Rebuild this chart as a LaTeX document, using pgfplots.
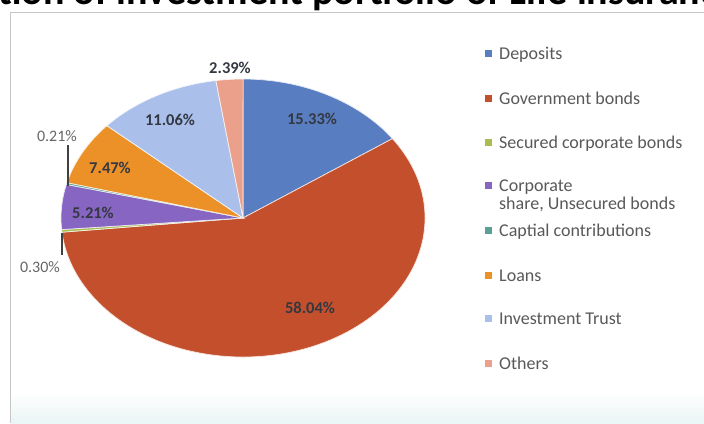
\documentclass[border=0pt]{standalone}
\usepackage{pgfplots}
\usepackage{pgfplotstable}
\pgfplotsset{compat=1.18}
\usepackage{fontspec}
\setmainfont{Carlito}

% slice colours, in table order
\definecolor{c0}{RGB}{88,125,192}
\definecolor{c1}{RGB}{196,79,45}
\definecolor{c2}{RGB}{170,190,80}
\definecolor{c3}{RGB}{134,102,194}
\definecolor{c4}{RGB}{90,160,150}
\definecolor{c5}{RGB}{236,145,40}
\definecolor{c6}{RGB}{170,192,235}
\definecolor{c7}{RGB}{235,160,140}
\definecolor{txt}{RGB}{52,56,66}

% shares in percent
\pgfplotstableread{
value
15.33
58.04
0.30
5.21
0.21
7.47
11.06
2.39
}\piedata

\begin{document}
\begin{tikzpicture}
\path[use as bounding box] (0,0) rectangle (704pt,423pt);

% start and end angle of each slice, clockwise from the top
\def\cum{0}
\pgfplotsforeachungrouped \i in {0,...,7}{%
  \pgfplotstablegetelem{\i}{value}\of\piedata
  \pgfmathsetmacro\sa{90-3.6*\cum}%
  \pgfmathsetmacro\cum{\cum+\pgfplotsretval}%
  \pgfmathsetmacro\ea{90-3.6*\cum}%
  \expandafter\xdef\csname sa\i\endcsname{\sa}%
  \expandafter\xdef\csname ea\i\endcsname{\ea}%
}

\begin{axis}[
  at={(0,0)}, anchor=south west,
  scale only axis, width=704pt, height=423pt,
  xmin=0, xmax=704, ymin=0, ymax=423,
  y dir=reverse, enlargelimits=false,
  hide axis, clip=false,
]
% frame and background
\fill[white] (axis cs:10,12) rectangle (axis cs:704,423);
\shade[top color=white, bottom color={rgb,255:red,234;green,245;blue,245}]
  (axis cs:11,392) rectangle (axis cs:704,423);
\draw[black!22, line width=1pt] (axis cs:10,423) -- (axis cs:10,12) -- (axis cs:704,12);

% title, cut off at the top edge
\node[anchor=base west, inner sep=0pt, font=\fontsize{40}{40}\selectfont\bfseries]
  at (axis cs:-2,5) {\llap{Distribu}tion of investment portfolio of Life insurance};

% slices
\pgfplotsinvokeforeach{0,...,7}{
  \fill[c#1, draw=white!85!c#1, line width=0.7pt]
    (axis cs:243,218) -- ++(\csname sa#1\endcsname:182pt and 139pt)
    arc[start angle=\csname sa#1\endcsname, end angle=\csname ea#1\endcsname,
        x radius=182pt, y radius=139pt] -- cycle;
}

% data labels
\begin{scope}[every node/.style={font=\fontsize{16.5}{16.5}\selectfont\bfseries, text=txt, inner sep=0pt}]
\node at (axis cs:312,119) {15.33\%};
\node at (axis cs:310,308) {58.04\%};
\node at (axis cs:93,213) {5.21\%};
\node at (axis cs:110,168) {7.47\%};
\node at (axis cs:170,120) {11.06\%};
\node at (axis cs:230,68) {2.39\%};
\node[font=\fontsize{16}{16}\selectfont, text=black!60] at (axis cs:57,136) {0.21\%};
\node[font=\fontsize{16}{16}\selectfont, text=black!60] at (axis cs:40,267) {0.30\%};
\end{scope}
\draw[black!75, line width=1.2pt] (axis cs:68,145) -- (axis cs:68,186);
\draw[black!75, line width=1.2pt] (axis cs:62,233) -- (axis cs:62,255);

% legend
\begin{scope}[every node/.style={font=\fontsize{18}{20}\selectfont, text=black!65, inner sep=0pt, anchor=base west}]
\pgfplotsinvokeforeach{0/53/Deposits, 1/98/Government bonds,
    2/142/Secured corporate bonds, 3/185/Corporate, 4/230/Captial contributions,
    5/275/Loans, 6/318/Investment Trust, 7/363/Others}{
  \def\legitem##1/##2/##3\relax{%
    \fill[fill=c##1] (axis cs:485,##2-3.5) rectangle (axis cs:492,##2+3.5);
    \node at (axis cs:499,##2+6) {##3};}%
  \legitem#1\relax
}
\node at (axis cs:499,209) {share, Unsecured bonds};
\end{scope}
\end{axis}
\end{tikzpicture}
\end{document}
